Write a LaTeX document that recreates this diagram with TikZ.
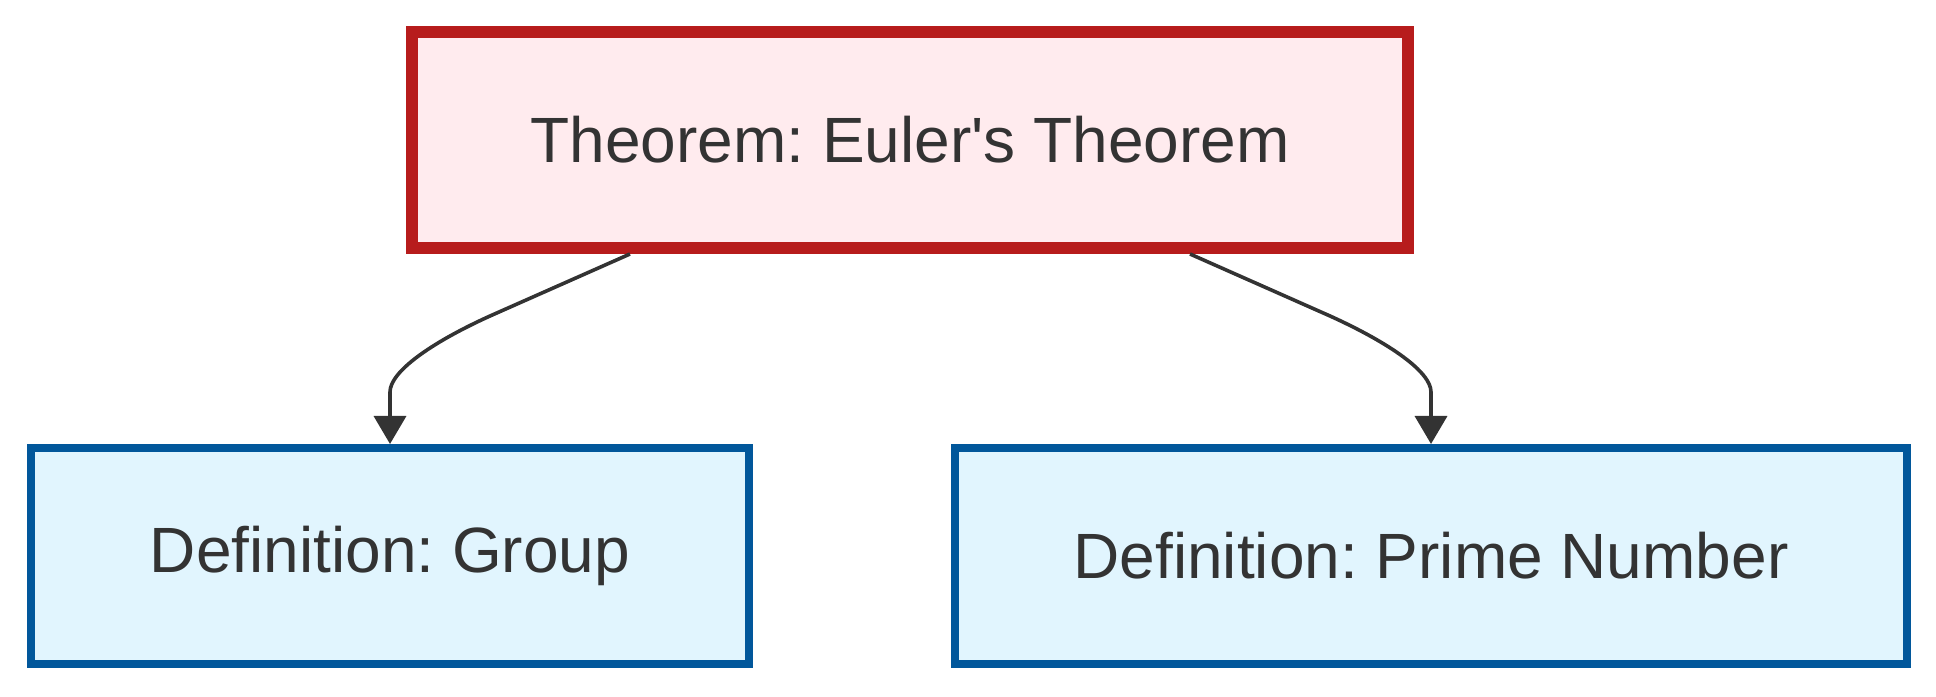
\documentclass[tikz,border=0pt]{standalone}
\usepackage{fontspec}
\setmainfont{Liberation Sans}
\usetikzlibrary{arrows.meta}
\definecolor{txt}{HTML}{333333}
\definecolor{thmline}{HTML}{B71C1C}
\definecolor{thmfill}{HTML}{FFEBEE}
\definecolor{defline}{HTML}{01579B}
\definecolor{deffill}{HTML}{E1F5FE}
\frenchspacing
\begin{document}
\begin{tikzpicture}[x=1pt,y=1pt,>={Triangle[width=8pt,length=7pt]},
    box/.style={rectangle,minimum height=54pt,text=txt,font=\fontsize{16}{19}\selectfont},
    thmbox/.style={box,draw=thmline,fill=thmfill,line width=3pt,minimum width=249pt},
    defbox/.style={box,draw=defline,fill=deffill,line width=2pt},
    edge/.style={->,draw=txt,line width=0.9pt}]
\useasboundingbox (0,0) rectangle (484,174);
\node[thmbox] (thm) at (227.5,139) {Theorem: Euler\textquotesingle s Theorem};
\node[defbox,minimum width=179.5pt] (grp) at (97.5,35) {Definition: Group};
\node[defbox,minimum width=238pt] (prime) at (357.75,35) {Definition: Prime Number};
\draw[edge] ([xshift=-70pt]thm.south) -- ++(-35,-15.5) .. controls +(-15,-6.8) and ([yshift=18pt]grp.north) .. ([yshift=13pt]grp.north) -- (grp.north);
\draw[edge] ([xshift=70pt]thm.south) -- ++(35,-15.5) .. controls +(15,-6.8) and ([yshift=18pt]prime.north) .. ([yshift=13pt]prime.north) -- (prime.north);
\end{tikzpicture}
\end{document}
